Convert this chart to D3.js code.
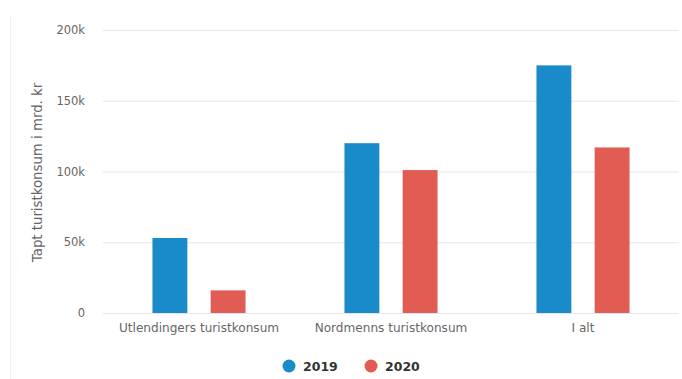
<!DOCTYPE html>
<html>
<head>
<meta charset="utf-8">
<script src="https://d3js.org/d3.v7.min.js"></script>
<style>
  body { margin: 0; background: #fff; }
  text { font-family: "DejaVu Sans", sans-serif; }
</style>
</head>
<body>
<div id="chart"></div>
<script>
// data
var categories = ["Utlendingers turistkonsum", "Nordmenns turistkonsum", "I alt"];
var years = ["2019", "2020"];
var values2019 = [53000, 120000, 175000];
var values2020 = [16000, 101000, 117000];
var yTicks = [0, 50000, 100000, 150000, 200000];
var colors = ["#1a8bca", "#e15c52"];

var W = 682, H = 379;
var margin = {top: 30, right: 3, bottom: 66, left: 103};
var width = W - margin.left - margin.right,
    height = H - margin.top - margin.bottom;

var svg = d3.select("#chart").append("svg")
    .attr("width", W)
    .attr("height", H);

// faint frame line on the left
svg.append("line")
    .attr("x1", 10.5).attr("x2", 10.5)
    .attr("y1", 15).attr("y2", H)
    .attr("stroke", "#f0f0f0");

var g = svg.append("g")
    .attr("transform", "translate(" + margin.left + "," + margin.top + ")");

var x = d3.scaleBand().domain(categories).range([0, width]).paddingInner(0).paddingOuter(0);
var x1 = d3.scaleBand().domain(years).range([0, x.bandwidth()]).paddingInner(0.4).paddingOuter(0.85);
var y = d3.scaleLinear().domain([0, 200000]).range([height, 0]);

// gridlines
g.append("g")
    .call(d3.axisLeft(y).tickValues(yTicks).tickSize(-width).tickFormat(""))
    .call(function(a) { a.select(".domain").remove(); })
    .selectAll("line").attr("stroke", "#e6e6e6");

// y labels
g.append("g")
    .call(d3.axisLeft(y).tickValues(yTicks).tickSize(0).tickPadding(18)
      .tickFormat(function(d) { return d === 0 ? "0" : (d / 1000) + "k"; }))
    .call(function(a) { a.select(".domain").remove(); })
    .selectAll("text")
      .attr("fill", "#666")
      .style("font-size", "11.5px")
      .style("font-family", "DejaVu Sans, sans-serif");

// y title
g.append("text")
    .attr("transform", "rotate(-90)")
    .attr("x", -142.5)
    .attr("y", -61)
    .attr("text-anchor", "middle")
    .attr("fill", "#666")
    .style("font-size", "13.3px")
    .text("Tapt turistkonsum i mrd. kr");

// x labels
g.append("g")
    .attr("transform", "translate(0," + height + ")")
    .call(d3.axisBottom(x).tickSize(0).tickPadding(10))
    .call(function(a) { a.select(".domain").remove(); })
    .selectAll("text")
      .attr("fill", "#666")
      .style("font-size", "12.1px")
      .style("font-family", "DejaVu Sans, sans-serif");

var rows = categories.map(function(c, i) {
  return {cat: c, vals: [values2019[i], values2020[i]]};
});

var groups = g.selectAll(".grp").data(rows).enter().append("g")
    .attr("transform", function(d) { return "translate(" + x(d.cat) + ",0)"; });

groups.selectAll("rect")
    .data(function(d) { return d.vals.map(function(v, j) { return {year: years[j], v: v, j: j}; }); })
    .enter().append("rect")
    .attr("x", function(d) { return x1(d.year); })
    .attr("width", x1.bandwidth())
    .attr("y", function(d) { return y(d.v); })
    .attr("height", function(d) { return height - y(d.v); })
    .attr("fill", function(d) { return colors[d.j]; });

// legend
var legend = svg.append("g").attr("transform", "translate(0,366)");
var legX = [289, 371];
years.forEach(function(yr, i) {
  legend.append("circle")
      .attr("cx", legX[i]).attr("cy", 0).attr("r", 6.5)
      .attr("fill", colors[i]);
  legend.append("text")
      .attr("x", legX[i] + 14).attr("y", 5)
      .attr("fill", "#333")
      .style("font-size", "12.5px")
      .style("font-weight", "bold")
      .text(yr);
});
</script>
</body>
</html>
